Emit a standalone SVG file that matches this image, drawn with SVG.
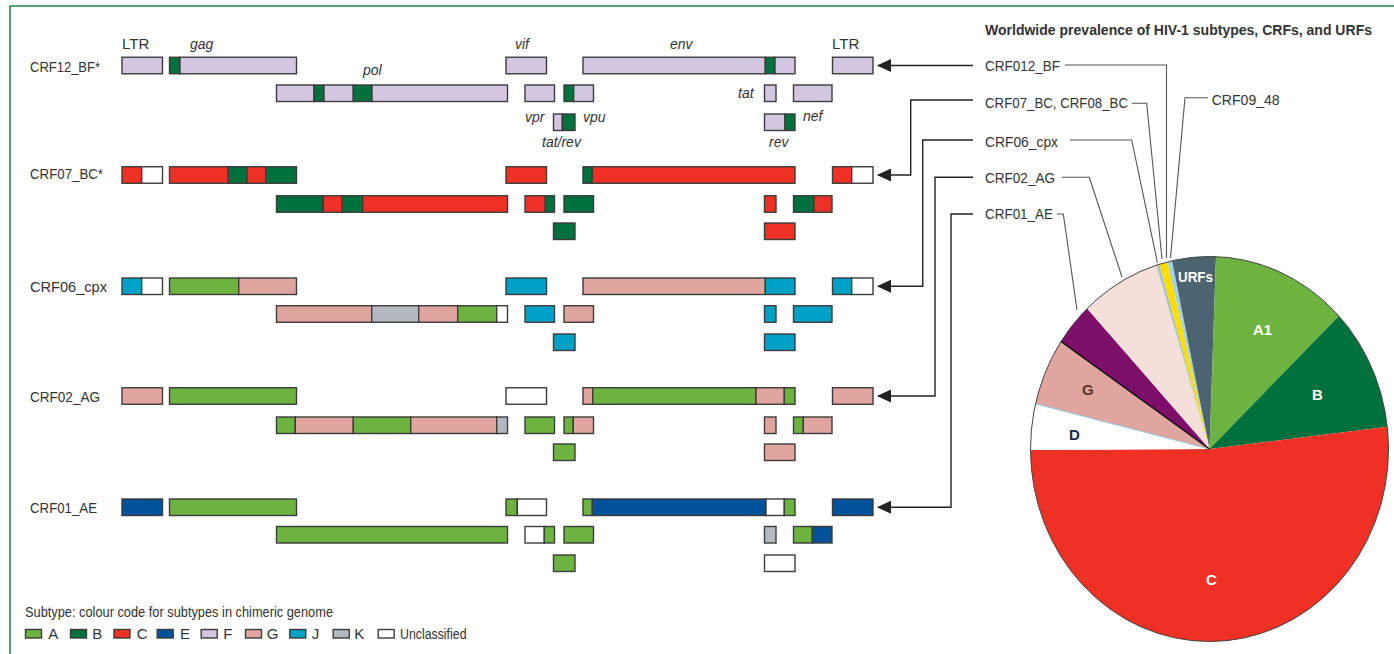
<svg xmlns="http://www.w3.org/2000/svg" width="1394" height="654" viewBox="0 0 1394 654">
<style>
.t{font-family:"Liberation Sans Narrow","Liberation Sans",Arial,sans-serif;fill:#333;font-size:15px}
.gi{font-family:"Liberation Sans Narrow","Liberation Sans",Arial,sans-serif;fill:#333;font-size:14px;font-style:italic}
.pl{font-family:"Liberation Sans Narrow","Liberation Sans",Arial,sans-serif;font-size:15px;font-weight:bold}
.s rect{stroke:#3c3c3c;stroke-width:1.4}
.A{fill:#6db33f}.B{fill:#00703c}.C{fill:#ee3124}.E{fill:#00539b}.F{fill:#d3c6e1}.G{fill:#e1a59f}.J{fill:#00a1c6}.K{fill:#b3b9bf}.U{fill:#ffffff}
.cl{fill:none;stroke:#222;stroke-width:1.4}
.cr{fill:none;stroke:#555;stroke-width:1.1}
</style>
<defs>
<marker id="ah" viewBox="0 0 14 13" refX="13" refY="6.5" markerWidth="14" markerHeight="13" markerUnits="userSpaceOnUse" orient="auto"><path d="M0,0 L14,6.5 L0,13 Z" fill="#222"/></marker>
</defs>
<rect width="1394" height="654" fill="#fff"/>
<path d="M10,654 V6 H1394" fill="none" stroke="#1f8a4c" stroke-width="1.6"/>

<!-- gene labels -->
<g id="gene-labels">
<text class="t" x="122" y="48.5">LTR</text>
<text class="gi" x="190" y="48.5">gag</text>
<text class="gi" x="363" y="75">pol</text>
<text class="gi" x="515" y="48.5">vif</text>
<text class="gi" x="670" y="48.5">env</text>
<text class="t" x="832" y="48.5">LTR</text>
<text class="gi" x="525" y="121.5">vpr</text>
<text class="gi" x="583" y="121.5">vpu</text>
<text class="gi" x="542" y="146.5">tat/rev</text>
<text class="gi" x="738" y="98">tat</text>
<text class="gi" x="803" y="121">nef</text>
<text class="gi" x="769" y="147">rev</text>
</g>

<!-- CRF12_BF -->
<g id="crf12" class="s">
<text class="t" x="30" y="71.5" textLength="70" lengthAdjust="spacingAndGlyphs">CRF12_BF*</text>
<rect class="F" x="122" y="57.25" width="40.5" height="16.5"/>
<rect class="B" x="169.5" y="57.25" width="10.5" height="16.5"/>
<rect class="F" x="180" y="57.25" width="116.5" height="16.5"/>
<rect class="F" x="506" y="57.25" width="40.5" height="16.5"/>
<rect class="F" x="583" y="57.25" width="182.3" height="16.5"/>
<rect class="B" x="765.3" y="57.25" width="9.7" height="16.5"/>
<rect class="F" x="775" y="57.25" width="20" height="16.5"/>
<rect class="F" x="832.5" y="57.25" width="40.5" height="16.5"/>
<rect class="F" x="276.5" y="85" width="37.5" height="16.5"/>
<rect class="B" x="314" y="85" width="10" height="16.5"/>
<rect class="F" x="324" y="85" width="29.3" height="16.5"/>
<rect class="B" x="353.3" y="85" width="18.7" height="16.5"/>
<rect class="F" x="372" y="85" width="135.5" height="16.5"/>
<rect class="F" x="525" y="85" width="29.5" height="16.5"/>
<rect class="B" x="564" y="85" width="9.7" height="16.5"/>
<rect class="F" x="573.7" y="85" width="19.8" height="16.5"/>
<rect class="F" x="764.5" y="85" width="11.5" height="16.5"/>
<rect class="F" x="793.5" y="85" width="38.5" height="16.5"/>
<rect class="F" x="553.5" y="114" width="8.8" height="16.5"/>
<rect class="B" x="562.3" y="114" width="12.7" height="16.5"/>
<rect class="F" x="764.5" y="114" width="20.5" height="16.5"/>
<rect class="B" x="785" y="114" width="10" height="16.5"/>
</g>

<!-- CRF07_BC -->
<g id="crf07" class="s">
<text class="t" x="30" y="178.5" textLength="73" lengthAdjust="spacingAndGlyphs">CRF07_BC*</text>
<rect class="C" x="122" y="166.75" width="19.7" height="16.5"/>
<rect class="U" x="141.7" y="166.75" width="20.8" height="16.5"/>
<rect class="C" x="169.5" y="166.75" width="58.8" height="16.5"/>
<rect class="B" x="228.3" y="166.75" width="18.7" height="16.5"/>
<rect class="C" x="247" y="166.75" width="18.7" height="16.5"/>
<rect class="B" x="265.7" y="166.75" width="30.8" height="16.5"/>
<rect class="C" x="506" y="166.75" width="40.5" height="16.5"/>
<rect class="B" x="583" y="166.75" width="9.3" height="16.5"/>
<rect class="C" x="592.3" y="166.75" width="202.7" height="16.5"/>
<rect class="C" x="832.5" y="166.75" width="19.2" height="16.5"/>
<rect class="U" x="851.7" y="166.75" width="21.3" height="16.5"/>
<rect class="B" x="276.5" y="195.75" width="46.8" height="16.5"/>
<rect class="C" x="323.3" y="195.75" width="19" height="16.5"/>
<rect class="B" x="342.3" y="195.75" width="20.4" height="16.5"/>
<rect class="C" x="362.7" y="195.75" width="144.8" height="16.5"/>
<rect class="C" x="525" y="195.75" width="20.3" height="16.5"/>
<rect class="B" x="545.3" y="195.75" width="9.2" height="16.5"/>
<rect class="B" x="564" y="195.75" width="29.5" height="16.5"/>
<rect class="C" x="764.5" y="195.75" width="11.5" height="16.5"/>
<rect class="B" x="793.5" y="195.75" width="20.5" height="16.5"/>
<rect class="C" x="814" y="195.75" width="18" height="16.5"/>
<rect class="B" x="553.5" y="223" width="21.5" height="16.5"/>
<rect class="C" x="764.5" y="223" width="30.5" height="16.5"/>
</g>

<!-- CRF06_cpx -->
<g id="crf06" class="s">
<text class="t" x="30" y="291.5" textLength="77" lengthAdjust="spacingAndGlyphs">CRF06_cpx</text>
<rect class="J" x="122" y="278" width="19.7" height="16.5"/>
<rect class="U" x="141.7" y="278" width="20.8" height="16.5"/>
<rect class="A" x="169.5" y="278" width="69.2" height="16.5"/>
<rect class="G" x="238.7" y="278" width="57.8" height="16.5"/>
<rect class="J" x="506" y="278" width="40.5" height="16.5"/>
<rect class="G" x="583" y="278" width="182.3" height="16.5"/>
<rect class="J" x="765.3" y="278" width="29.7" height="16.5"/>
<rect class="J" x="832.5" y="278" width="19.2" height="16.5"/>
<rect class="U" x="851.7" y="278" width="21.3" height="16.5"/>
<rect class="G" x="276.5" y="305.75" width="95.2" height="16.5"/>
<rect class="K" x="371.7" y="305.75" width="47" height="16.5"/>
<rect class="G" x="418.7" y="305.75" width="39" height="16.5"/>
<rect class="A" x="457.7" y="305.75" width="39" height="16.5"/>
<rect class="U" x="496.7" y="305.75" width="10.8" height="16.5"/>
<rect class="J" x="525" y="305.75" width="29.5" height="16.5"/>
<rect class="G" x="564" y="305.75" width="29.5" height="16.5"/>
<rect class="J" x="764.5" y="305.75" width="11.5" height="16.5"/>
<rect class="J" x="793.5" y="305.75" width="38.5" height="16.5"/>
<rect class="J" x="553.5" y="334" width="21.5" height="16.5"/>
<rect class="J" x="764.5" y="334" width="30.5" height="16.5"/>
</g>

<!-- CRF02_AG -->
<g id="crf02" class="s">
<text class="t" x="30" y="401.5" textLength="70" lengthAdjust="spacingAndGlyphs">CRF02_AG</text>
<rect class="G" x="122" y="387.75" width="40.5" height="16.5"/>
<rect class="A" x="169.5" y="387.75" width="127" height="16.5"/>
<rect class="U" x="506" y="387.75" width="40.5" height="16.5"/>
<rect class="G" x="583" y="387.75" width="9.7" height="16.5"/>
<rect class="A" x="592.7" y="387.75" width="163.3" height="16.5"/>
<rect class="G" x="756" y="387.75" width="28.3" height="16.5"/>
<rect class="A" x="784.3" y="387.75" width="10.7" height="16.5"/>
<rect class="G" x="832.5" y="387.75" width="40.5" height="16.5"/>
<rect class="A" x="276.5" y="417" width="18.8" height="16.5"/>
<rect class="G" x="295.3" y="417" width="58" height="16.5"/>
<rect class="A" x="353.3" y="417" width="57.4" height="16.5"/>
<rect class="G" x="410.7" y="417" width="86" height="16.5"/>
<rect class="K" x="496.7" y="417" width="10.8" height="16.5"/>
<rect class="A" x="525" y="417" width="29.5" height="16.5"/>
<rect class="A" x="564" y="417" width="9.3" height="16.5"/>
<rect class="G" x="573.3" y="417" width="20.2" height="16.5"/>
<rect class="G" x="764.5" y="417" width="11.5" height="16.5"/>
<rect class="A" x="793.5" y="417" width="9.8" height="16.5"/>
<rect class="G" x="803.3" y="417" width="28.7" height="16.5"/>
<rect class="A" x="553.5" y="444" width="21.5" height="16.5"/>
<rect class="G" x="764.5" y="444" width="30.5" height="16.5"/>
</g>

<!-- CRF01_AE -->
<g id="crf01" class="s">
<text class="t" x="30" y="513" textLength="67" lengthAdjust="spacingAndGlyphs">CRF01_AE</text>
<rect class="E" x="122" y="499" width="40.5" height="16.5"/>
<rect class="A" x="169.5" y="499" width="127" height="16.5"/>
<rect class="A" x="506" y="499" width="11.3" height="16.5"/>
<rect class="U" x="517.3" y="499" width="29.2" height="16.5"/>
<rect class="A" x="583" y="499" width="9.3" height="16.5"/>
<rect class="E" x="592.3" y="499" width="173.7" height="16.5"/>
<rect class="U" x="766" y="499" width="18.3" height="16.5"/>
<rect class="A" x="784.3" y="499" width="10.7" height="16.5"/>
<rect class="E" x="832.5" y="499" width="40.5" height="16.5"/>
<rect class="A" x="276.5" y="526.5" width="231" height="16.5"/>
<rect class="U" x="525" y="526.5" width="19.3" height="16.5"/>
<rect class="A" x="544.3" y="526.5" width="10.2" height="16.5"/>
<rect class="A" x="564" y="526.5" width="29.5" height="16.5"/>
<rect class="K" x="764.5" y="526.5" width="11.5" height="16.5"/>
<rect class="A" x="793.5" y="526.5" width="18.8" height="16.5"/>
<rect class="E" x="812.3" y="526.5" width="19.7" height="16.5"/>
<rect class="A" x="553.5" y="555" width="21.5" height="16.5"/>
<rect class="U" x="764.5" y="555" width="30.5" height="16.5"/>
</g>

<!-- legend -->
<g id="legend" class="s">
<text class="t" x="25" y="616.5" textLength="308" lengthAdjust="spacingAndGlyphs">Subtype: colour code for subtypes in chimeric genome</text>
<rect class="A" x="25.5" y="629.5" width="16" height="8.5"/><text class="t" x="48.3" y="638.5">A</text>
<rect class="B" x="70.5" y="629.5" width="16" height="8.5"/><text class="t" x="92.3" y="638.5">B</text>
<rect class="C" x="114" y="629.5" width="16" height="8.5"/><text class="t" x="136.7" y="638.5">C</text>
<rect class="E" x="157.2" y="629.5" width="16" height="8.5"/><text class="t" x="180" y="638.5">E</text>
<rect class="F" x="201.2" y="629.5" width="16" height="8.5"/><text class="t" x="223.3" y="638.5">F</text>
<rect class="G" x="245.5" y="629.5" width="16" height="8.5"/><text class="t" x="266.7" y="638.5">G</text>
<rect class="J" x="289.8" y="629.5" width="16" height="8.5"/><text class="t" x="311.7" y="638.5">J</text>
<rect class="K" x="333.2" y="629.5" width="16" height="8.5"/><text class="t" x="354.3" y="638.5">K</text>
<rect class="U" x="378.2" y="629.5" width="16" height="8.5"/><text class="t" x="400" y="638.5" textLength="66.5" lengthAdjust="spacingAndGlyphs">Unclassified</text>
</g>

<!-- title -->
<text id="title" x="985" y="35" font-family="'Liberation Sans Narrow','Liberation Sans',Arial,sans-serif" font-size="14" font-weight="bold" fill="#333" textLength="387" lengthAdjust="spacingAndGlyphs">Worldwide prevalence of HIV-1 subtypes, CRFs, and URFs</text>

<!-- pie -->
<g id="pie">
<path d="M1209.5,449 L1167.5,261.9 A179,192.5 0 0 1 1172,260.8 Z" fill="#9fd3e4"/>
<path d="M1209.5,449 L1172,260.8 A179,192.5 0 0 1 1216,256.6 Z" fill="#4b6470"/>
<path d="M1209.5,449 L1216,256.6 A179,192.5 0 0 1 1338.9,316 Z" fill="#6db33f"/>
<path d="M1209.5,449 L1338.9,316 A179,192.5 0 0 1 1387.3,426.8 Z" fill="#00703c"/>
<path d="M1209.5,449 L1387.3,426.8 A179,192.5 0 1 1 1030.5,450 Z" fill="#ee3124"/>
<path d="M1209.5,449 L1030.5,450 A179,192.5 0 0 1 1035.5,403.7 Z" fill="#ffffff"/>
<path d="M1209.5,449 L1035.5,403.7 A179,192.5 0 0 1 1061,341.4 Z" fill="#e1a59f"/>
<path d="M1209.5,449 L1061,341.4 A179,192.5 0 0 1 1087.1,308.6 Z" fill="#7d0f6b"/>
<path d="M1209.5,449 L1087.1,308.6 A179,192.5 0 0 1 1156.3,265.2 Z" fill="#f5dfdb"/>
<path d="M1209.5,449 L1156.3,265.2 A179,192.5 0 0 1 1159.5,264.2 Z" fill="#a9c3c6"/>
<path d="M1209.5,449 L1159.5,264.2 A179,192.5 0 0 1 1167.5,261.9 Z" fill="#ffdd00"/>
<line x1="1209.5" y1="449" x2="1035.5" y2="403.7" stroke="#9fc6d0" stroke-width="1.2"/>
<line x1="1209.5" y1="449" x2="1061" y2="341.4" stroke="#111" stroke-width="1.5"/>
<ellipse cx="1209.5" cy="449" rx="179" ry="192.5" fill="none" stroke="#444" stroke-width="1"/>
<text class="pl" x="1178" y="282" fill="#fff" textLength="35" lengthAdjust="spacingAndGlyphs">URFs</text>
<text class="pl" x="1253" y="335" fill="#fff">A1</text>
<text class="pl" x="1312" y="400" fill="#fff">B</text>
<text class="pl" x="1206" y="585" fill="#fff">C</text>
<text class="pl" x="1082" y="395" fill="#5a3528">G</text>
<text class="pl" x="1069" y="440" fill="#1c2a4a">D</text>
</g>

<!-- right labels -->
<g id="lbl-crf012"><text class="t" x="985" y="71" textLength="75" lengthAdjust="spacingAndGlyphs">CRF012_BF</text></g>
<g id="lbl-crf07"><text class="t" x="985" y="108.3" textLength="143" lengthAdjust="spacingAndGlyphs">CRF07_BC, CRF08_BC</text></g>
<g id="lbl-crf09"><text class="t" x="1211.7" y="105" textLength="68" lengthAdjust="spacingAndGlyphs">CRF09_48</text></g>
<g id="lbl-crf06"><text class="t" x="985" y="146.7" textLength="73" lengthAdjust="spacingAndGlyphs">CRF06_cpx</text></g>
<g id="lbl-crf02"><text class="t" x="985" y="182.7" textLength="70" lengthAdjust="spacingAndGlyphs">CRF02_AG</text></g>
<g id="lbl-crf01"><text class="t" x="985" y="219.3" textLength="68" lengthAdjust="spacingAndGlyphs">CRF01_AE</text></g>

<!-- connectors -->
<g id="connectors">
<path class="cl" d="M973,65.5 H878" marker-end="url(#ah)"/>
<path class="cl" d="M973,100 H910.7 V175 H878" marker-end="url(#ah)"/>
<path class="cl" d="M973,140 H922.7 V286.25 H878" marker-end="url(#ah)"/>
<path class="cl" d="M973,177.3 H935 V396 H878" marker-end="url(#ah)"/>
<path class="cl" d="M973,214 H951 V507.25 H878" marker-end="url(#ah)"/>
<path class="cr" d="M1065,65 H1166.5 V258"/>
<path class="cr" d="M1131.7,103.3 H1146.7 L1162,259"/>
<path class="cr" d="M1208,97.7 H1185 L1170.5,258"/>
<path class="cr" d="M1070,140 H1131.7 L1157.5,263"/>
<path class="cr" d="M1061.7,177.3 H1089.3 L1122,277"/>
<path class="cr" d="M1056.7,214 H1063.3 L1077,310"/>
</g>
</svg>
